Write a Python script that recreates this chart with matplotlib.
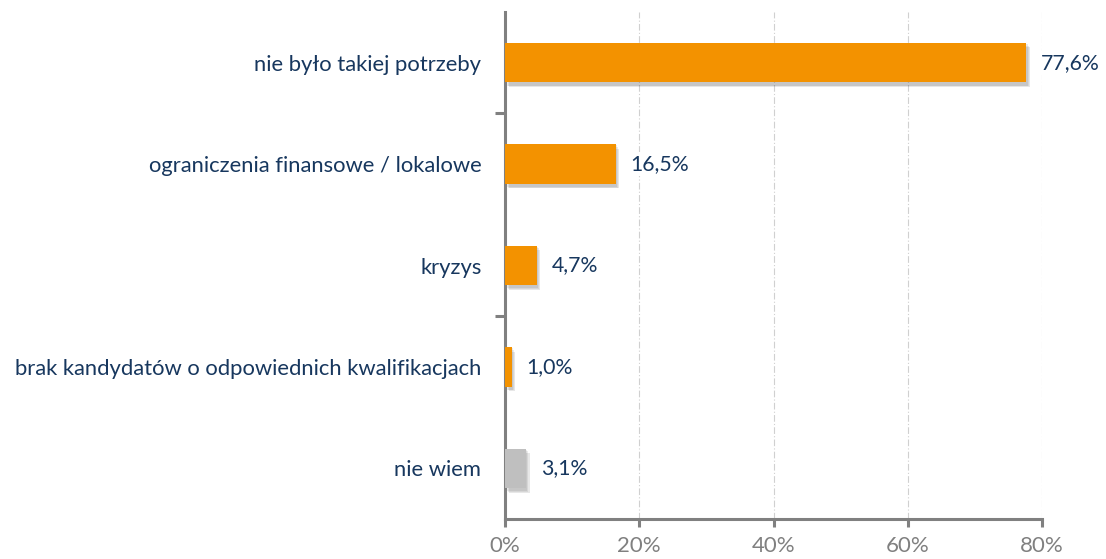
import numpy as np
import matplotlib.pyplot as plt
from matplotlib.ticker import FixedLocator

plt.rcParams['font.family'] = ['Lato', 'DejaVu Sans']

# data
categories = ['nie było takiej potrzeby', 'ograniczenia finansowe / lokalowe', 'kryzys',
              'brak kandydatów o odpowiednich kwalifikacjach', 'nie wiem']
values = [77.6, 16.5, 4.7, 1.0, 3.1]
labels = ['77,6%', '16,5%', '4,7%', '1,0%', '3,1%']
bar_colors = ['#F39200', '#F39200', '#F39200', '#F39200', '#BFBFBF']
xticks = [0, 20, 40, 60, 80]
xticklabels = ['0%', '20%', '40%', '60%', '80%']

fig = plt.figure(figsize=(11.06, 5.59), dpi=100)
ax = fig.add_axes([505 / 1106, 40 / 559, 537 / 1106, 507 / 559])

y = np.arange(len(categories))
h = 0.39

# soft shadow behind the bars
for k, a in enumerate([0.10, 0.10, 0.12]):
    dx = 0.25 + 0.15 * k
    dy = 0.02 + 0.012 * k
    ax.barh(y + dy, values, height=h + 0.01 * (2 - k), left=dx, color='#404040',
            alpha=a, zorder=2, linewidth=0)
ax.barh(y, values, height=h, color=bar_colors, zorder=3, linewidth=0)

for yi, v, t in zip(y, values, labels):
    ax.annotate(t, (v, yi), xytext=(15, 0), textcoords='offset pixels',
                va='center', ha='left', fontsize=15.3, color='#17375E', zorder=4,
                bbox=dict(boxstyle='square,pad=0.1', fc='white', ec='none'))

ax.set_xlim(0, 80)
ax.set_ylim(4.5, -0.5)

ax.set_xticks(xticks)
ax.set_xticklabels(xticklabels, fontsize=16, color='#808080')
ax.tick_params(axis='x', length=6, width=2.2, color='#808080', pad=6, direction='out')

ax.set_yticks(y)
ax.set_yticklabels(categories, fontsize=15.8, color='#17375E')
ax.tick_params(axis='y', which='major', length=0, pad=17)
ax.yaxis.set_minor_locator(FixedLocator([0.5, 2.5]))
ax.tick_params(axis='y', which='minor', length=7, width=2.2, color='#808080', direction='out')

for s in ['top', 'right']:
    ax.spines[s].set_visible(False)
for s in ['left', 'bottom']:
    ax.spines[s].set_color('#808080')
    ax.spines[s].set_linewidth(2.2)

for xv in xticks[1:]:
    ax.axvline(xv, color='#D0D0D0', lw=0.8, ls=(0, (6, 2, 1, 2)), zorder=1)

fig.savefig('out.png', dpi=100)
